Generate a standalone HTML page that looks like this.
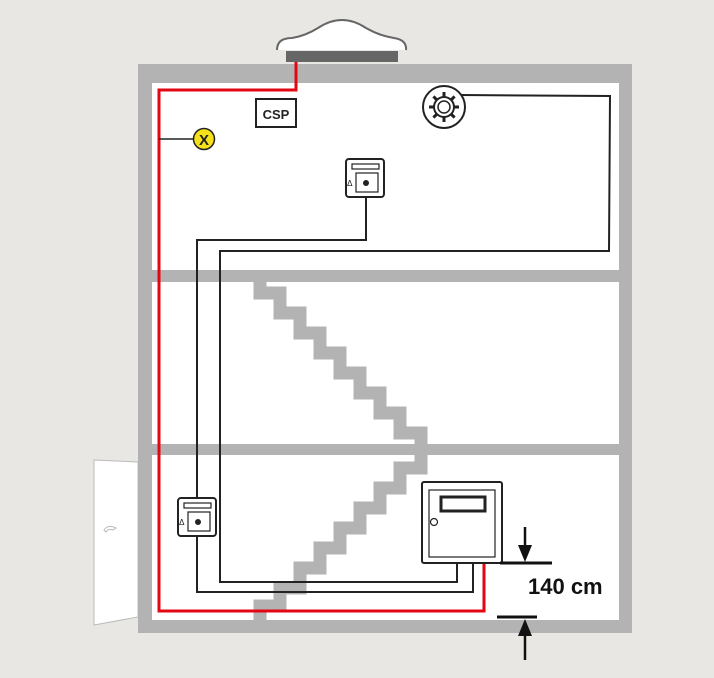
<!DOCTYPE html>
<html><head><style>html,body{margin:0;padding:0;background:#e8e7e3}svg{display:block}</style></head>
<body>
<svg width="714" height="678" viewBox="0 0 714 678" xmlns="http://www.w3.org/2000/svg">
<rect width="714" height="678" fill="#e8e7e3"/>
<!-- roof device -->
<path d="M277,50 Q277,38 292,38 Q305,36 318,28 Q342,12 366,28 Q380,36 394,38 Q407,40 406,50" fill="#fff" stroke="#666" stroke-width="2"/>
<rect x="286" y="51" width="112" height="11" fill="#666"/>
<!-- door -->
<polygon points="94,460 138,462 138,617 94,625" fill="#fff" stroke="#bbb" stroke-width="1"/>
<path d="M104,530 q4,-6 12,-2 l-3,2 q-5,-2 -7,2 z" fill="none" stroke="#bbb" stroke-width="1"/>
<!-- house -->
<rect x="138" y="64" width="494" height="569" fill="#b3b3b3"/>
<rect x="152" y="83" width="467" height="187" fill="#fff"/>
<rect x="152" y="282" width="467" height="162" fill="#fff"/>
<rect x="152" y="455" width="467" height="165" fill="#fff"/>
<!-- stairs -->
<path d="M260,282 V293 H280 V313 H300 V333 H320 V353 H340 V373 H360 V393 H380 V413 H400 V433 H421 V450" fill="none" stroke="#b3b3b3" stroke-width="13"/>
<path d="M421,450 V468 H400 V488 H380 V508 H360 V528 H340 V548 H320 V568 H300 V588 H280 V606 H260 V622" fill="none" stroke="#b3b3b3" stroke-width="13"/>
<!-- black wires -->
<path d="M460,95 L610,96 L609,251 L220,251 L220,582 L457,582 L457,563" fill="none" stroke="#222" stroke-width="2"/>
<path d="M366,197 V240 H197 V592 H473 V563" fill="none" stroke="#222" stroke-width="2"/>
<!-- red -->
<path d="M296,62 V90 H159 V611 H484 V563" fill="none" stroke="#e30613" stroke-width="3"/>
<!-- X -->
<line x1="159" y1="139" x2="194" y2="139" stroke="#222" stroke-width="1.5"/>
<circle cx="204" cy="139" r="10.5" fill="#f5e11a" stroke="#222" stroke-width="1.5"/>
<text x="204" y="145" font-family="Liberation Sans, sans-serif" font-weight="bold" font-size="15" text-anchor="middle" fill="#222">X</text>
<!-- CSP -->
<rect x="256" y="99" width="40" height="28" fill="#fff" stroke="#222" stroke-width="2"/>
<text x="276" y="119" font-family="Liberation Sans, sans-serif" font-weight="bold" font-size="13" text-anchor="middle" fill="#222">CSP</text>
<!-- smoke detector -->
<circle cx="444" cy="107" r="21" fill="#fff" stroke="#222" stroke-width="2"/>
<g stroke="#222" stroke-width="3">
<line x1="444" y1="92" x2="444" y2="122"/><line x1="429" y1="107" x2="459" y2="107"/>
<line x1="433.4" y1="96.4" x2="454.6" y2="117.6"/><line x1="454.6" y1="96.4" x2="433.4" y2="117.6"/>
</g>
<circle cx="444" cy="107" r="11" fill="#222"/>
<circle cx="444" cy="107" r="9" fill="#fff"/>
<circle cx="444" cy="107" r="6" fill="none" stroke="#222" stroke-width="1.5"/>
<!-- thermostats -->
<g id="t">
<rect x="346" y="159" width="38" height="38" rx="3" fill="#fff" stroke="#222" stroke-width="2"/>
<rect x="352" y="164" width="27" height="5" fill="#fff" stroke="#222" stroke-width="1.2"/>
<rect x="356" y="173" width="22" height="19" fill="#fff" stroke="#222" stroke-width="1.2"/>
<circle cx="366" cy="183" r="3" fill="#222"/>
<text x="347" y="186" font-family="DejaVu Sans, sans-serif" font-size="8" fill="#222">Δ</text>
</g>
<use href="#t" x="-168" y="339"/>
<!-- cabinet -->
<rect x="422" y="482" width="80" height="81" rx="2" fill="#fff" stroke="#222" stroke-width="2"/>
<rect x="429" y="490" width="66" height="67" fill="#fff" stroke="#222" stroke-width="1.2"/>
<rect x="441" y="497" width="44" height="14" fill="#fff" stroke="#222" stroke-width="3"/>
<circle cx="434" cy="522" r="3.5" fill="#fff" stroke="#222" stroke-width="1.2"/>
<!-- dimension -->
<line x1="500" y1="563" x2="552" y2="563" stroke="#111" stroke-width="3"/>
<line x1="497" y1="617" x2="537" y2="617" stroke="#111" stroke-width="3"/>
<line x1="525" y1="527" x2="525" y2="550" stroke="#111" stroke-width="2.5"/>
<polygon points="518,545 532,545 525,562" fill="#111"/>
<line x1="525" y1="632" x2="525" y2="660" stroke="#111" stroke-width="2.5"/>
<polygon points="518,636 532,636 525,619" fill="#111"/>
<text x="528" y="594" font-family="Liberation Sans, sans-serif" font-weight="bold" font-size="22" fill="#111">140 cm</text>
</svg>
</body></html>
